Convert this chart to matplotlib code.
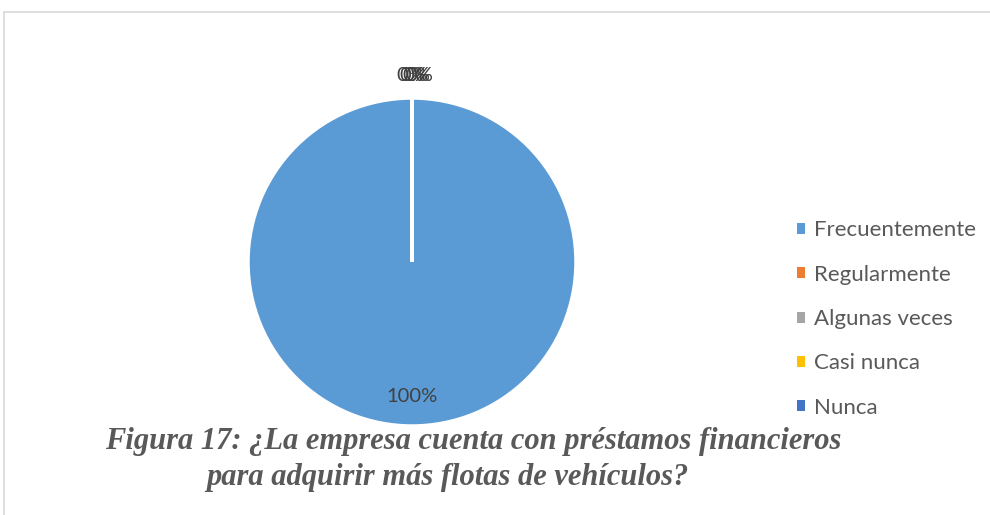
import matplotlib
matplotlib.use("Agg")
import matplotlib.pyplot as plt
from matplotlib.patches import Patch
import numpy as np

categories = ["Frecuentemente", "Regularmente", "Algunas veces", "Casi nunca", "Nunca"]
values = [100, 0, 0, 0, 0]
colors = ["#5B9BD5", "#ED7D31", "#A5A5A5", "#FFC000", "#4472C4"]
caption_line1 = "Figura 17: ¿La empresa cuenta con préstamos financieros"
caption_line2 = "para adquirir más flotas de vehículos?"

W, H = 990, 515
fig = plt.figure(figsize=(W / 100, H / 100), dpi=100)

# chart frame (top and left edges visible)
fig.add_artist(plt.Line2D([4 / W, 1], [1 - 12 / H, 1 - 12 / H], color="#D9D9D9", lw=1.2))
fig.add_artist(plt.Line2D([4 / W, 4 / W], [0, 1 - 12 / H], color="#D9D9D9", lw=1.2))

cx, cy, r = 412, 262, 164
ax = fig.add_axes([(cx - r) / W, (H - cy - r) / H, 2 * r / W, 2 * r / H])
wedges, _ = ax.pie(values, colors=colors, startangle=90, counterclock=False,
                   radius=1, wedgeprops=dict(edgecolor="white", linewidth=2.5))
ax.set_xlim(-1, 1)
ax.set_ylim(-1, 1)
ax.set_aspect("equal")
ax.axis("off")

total = sum(values)
small_idx = 0
for w, v in zip(wedges, values):
    ang = np.deg2rad((w.theta1 + w.theta2) / 2)
    pct = v / total * 100
    if pct >= 50:
        d, dx = 0.82, 0.0
    else:
        d = 1.14
        dx = 0.018 + (small_idx - 1.5) * 0.018
        small_idx += 1
    ax.text(d * np.cos(ang) + dx, d * np.sin(ang), f"{pct:.0f}%", ha="center", va="center",
            fontsize=14.5, color="#404040", family=["Lato", "DejaVu Sans"])

handles = [Patch(facecolor=c, edgecolor="none") for c in colors]
fig.legend(handles, categories, loc="center left", bbox_to_anchor=(797 / W, 1 - 319 / H),
           frameon=False, labelcolor="#595959", handlelength=0.38,
           handleheight=0.38, handletextpad=0.4, labelspacing=1.1,
           borderpad=0, borderaxespad=0,
           prop=dict(family=["Lato", "DejaVu Sans"], size=16))

fig.text(473 / W, 1 - 442 / H, caption_line1, ha="center", va="center",
         fontsize=22, fontstyle="italic", fontweight="bold", color="#595959",
         family="Liberation Serif")
fig.text(447 / W, 1 - 478 / H, caption_line2, ha="center", va="center",
         fontsize=22, fontstyle="italic", fontweight="bold", color="#595959",
         family="Liberation Serif")

fig.savefig("out.png", dpi=100)
